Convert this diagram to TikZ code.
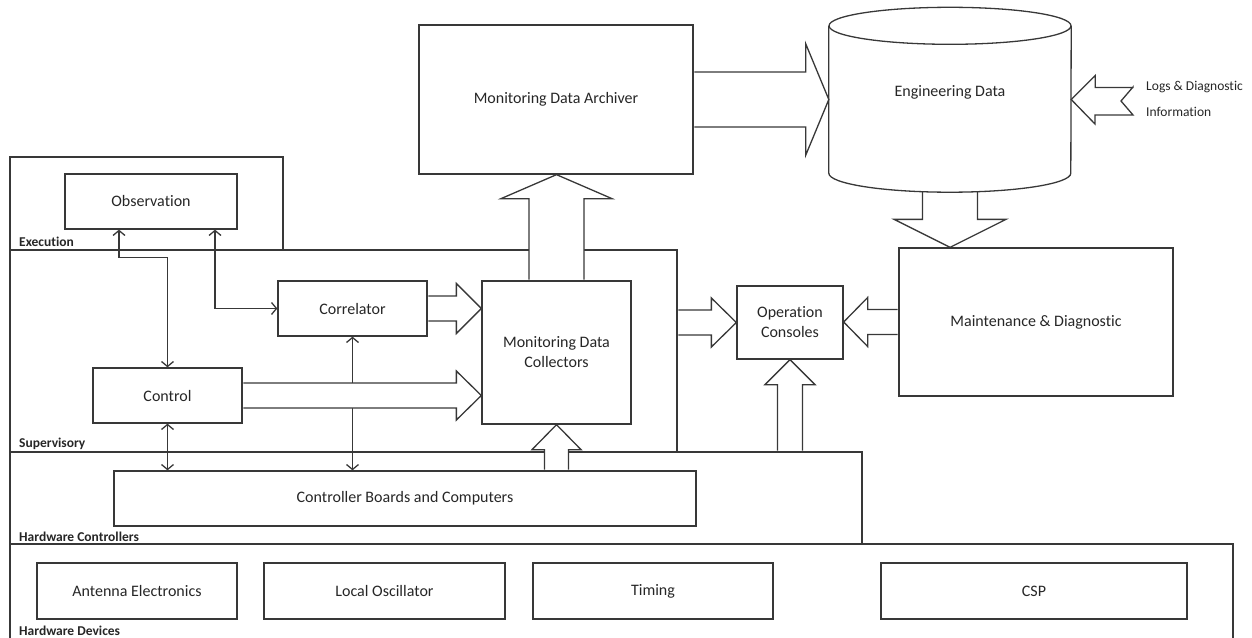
\documentclass[tikz,border=0pt]{standalone}
\usepackage{fontspec}
\setmainfont{Carlito}[Ligatures=NoCommon]
\usetikzlibrary{arrows.meta,calc}

\pgfdeclarelayer{frames}
\pgfdeclarelayer{links}
\pgfdeclarelayer{bigarrows}
\pgfsetlayers{frames,links,bigarrows,main}

% Block arrow from #1 (tail, open end) to #2 (tip):
% #3 shaft half-width, #4 head half-width, #5 head length
\newcommand\fatarrow[5]{%
  \path ($(#1)!0.65pt!(#2)$) coordinate (fat-s) (#2) coordinate (fat-t);
  \path ($(fat-t)!#5!(fat-s)$) coordinate (fat-b);
  \path[bigarrow]
    ($(fat-s)!#3!90:(fat-t)$) -- ($(fat-b)!#3!90:(fat-t)$) --
    ($(fat-b)!#4!90:(fat-t)$) -- (fat-t) --
    ($(fat-b)!#4!-90:(fat-t)$) -- ($(fat-b)!#3!-90:(fat-t)$) --
    ($(fat-s)!#3!-90:(fat-t)$);
}

\begin{document}
\begin{tikzpicture}[x=1pt,y=-1pt,
  line/.style={draw=black!78, line width=1.3pt},
  box/.style={line, rectangle, inner sep=0pt, text=black!85,
    font=\fontsize{16}{20}\selectfont, align=center},
  frame/.style={line, rectangle, inner sep=0pt},
  layername/.style={anchor=base west, inner sep=0pt, text=black!85,
    font=\bfseries\fontsize{13.5}{15}\selectfont},
  link/.style={line, {Straight Barb[length=5pt,width=12pt]}-{Straight Barb[length=5pt,width=12pt]}},
  bigarrow/.style={line, fill=white, line join=miter},
]
\useasboundingbox (0,0) rectangle (1252,637);

% ---------- layer frames ----------
\begin{pgfonlayer}{frames}
  \node[frame, minimum width=273pt, minimum height=93pt]  (exec) at (146.5,203.5) {};
  \node[frame, minimum width=667pt, minimum height=202pt] (sup)  at (343.5,351) {};
  \node[frame, minimum width=852pt, minimum height=92pt]  (hwc)  at (436,498) {};
  \node[frame, minimum width=1223pt, minimum height=116pt] (hwd) at (621.5,602) {};
\end{pgfonlayer}

\node[layername] (execname) at (19,246) {Execution};
\node[layername] (supname)  at (19,447) {Supervisory};
\node[layername] (hwcname)  at (19,541) {Hardware Controllers};
\node[layername] (hwdname)  at (19,635) {Hardware Devices};

% ---------- blocks ----------
\node[box, minimum width=172pt, minimum height=55pt]  (obs)  at (151,201.5) {Observation};
\node[box, minimum width=149pt, minimum height=55pt]  (corr) at (352.5,308.5) {Correlator};
\node[box, minimum width=149pt, minimum height=55pt]  (ctrl) at (167.5,395.5) {Control};
\node[box, minimum width=149pt, minimum height=143pt] (mdc)  at (556.5,352.5) {Monitoring Data\\Collectors};
\node[box, minimum width=274pt, minimum height=149pt] (arch) at (556,99.5) {Monitoring Data Archiver};
\node[box, minimum width=106pt, minimum height=73pt]  (oc)   at (790,322.5) {Operation\\Consoles};
\node[box, minimum width=274pt, minimum height=148pt] (md)   at (1036,322) {Maintenance \& Diagnostic};
\node[box, minimum width=582pt, minimum height=55pt]  (cb)   at (405,498.5) {Controller Boards and Computers};
\node[box, minimum width=200pt, minimum height=56pt]  (ae)   at (137,591) {Antenna Electronics};
\node[box, minimum width=241pt, minimum height=56pt]  (lo)   at (384.5,591) {Local Oscillator};
\node[box, minimum width=240pt, minimum height=56pt]  (tim)  at (653,591) {Timing};
\node[box, minimum width=306pt, minimum height=56pt]  (csp)  at (1034,591) {CSP};

% engineering data store (cylinder)
\node[inner sep=0pt, minimum width=242pt, minimum height=147pt] (eng) at (950,99.5) {};
\draw[line] (eng.north west) -- (eng.south west)
  arc[start angle=180, end angle=360, x radius=121pt, y radius=19pt]
  -- (eng.north east);
\draw[line] (eng.north) ellipse[x radius=121pt, y radius=18.5pt];
\node[text=black!85, font=\fontsize{16}{20}\selectfont, inner sep=0pt] (engtext) at (950,92) {Engineering Data};
\coordinate (engbot) at ($(eng.south)+(0,18)$);

\node[anchor=west, align=left, inner sep=0pt, text=black!85,
  font=\fontsize{13.5}{26}\selectfont] (logs) at (1146,99) {Logs \& Diagnostic\\Information};
\coordinate (logstail) at (1133,99.5);

% ---------- thin bidirectional links ----------
\begin{pgfonlayer}{links}
  \draw[link] ([xshift=-32pt]obs.south) -- ++(0,28) -| (ctrl.north);
  \draw[link] ([xshift=64pt]obs.south) |- (corr.west);
  \draw[link] (ctrl.south) -- (ctrl.south |- cb.north);
  \draw[link] (corr.south) -- (corr.south |- cb.north);
\end{pgfonlayer}

% ---------- block arrows ----------
\begin{pgfonlayer}{bigarrows}
  \fatarrow{corr.east}{corr.east -| mdc.west}{12.5pt}{25pt}{25pt}
  \fatarrow{ctrl.east}{ctrl.east -| mdc.west}{12.5pt}{24.5pt}{25pt}
  \fatarrow{mdc.north}{mdc.north |- arch.south}{27.5pt}{55.5pt}{24pt}
  \fatarrow{arch.east}{arch.east -| eng.west}{27.5pt}{55.5pt}{23pt}
  \fatarrow{engbot}{engbot |- md.north}{27.5pt}{56pt}{28pt}
  \fatarrow{sup.east |- oc.west}{oc.west}{12.5pt}{24.5pt}{25pt}
  \fatarrow{md.west}{md.west -| oc.east}{12.5pt}{24.5pt}{24pt}
  \fatarrow{oc.south |- hwc.north}{oc.south}{12.5pt}{25pt}{25pt}
  \fatarrow{mdc.south |- cb.north}{mdc.south}{12pt}{24.5pt}{25pt}
  % incoming logs arrow with notched tail
  \path[bigarrow] (eng.east) -- ++(24,-24) -- ++(0,12) -| ($(logstail)+(0,-12.5)$)
    -- ($(logstail)+(-12,1.5)$) -- ($(logstail)+(0,15.5)$) -- ++(-38,0)
    -- ++(0,9) -- cycle;
\end{pgfonlayer}
\end{tikzpicture}
\end{document}
